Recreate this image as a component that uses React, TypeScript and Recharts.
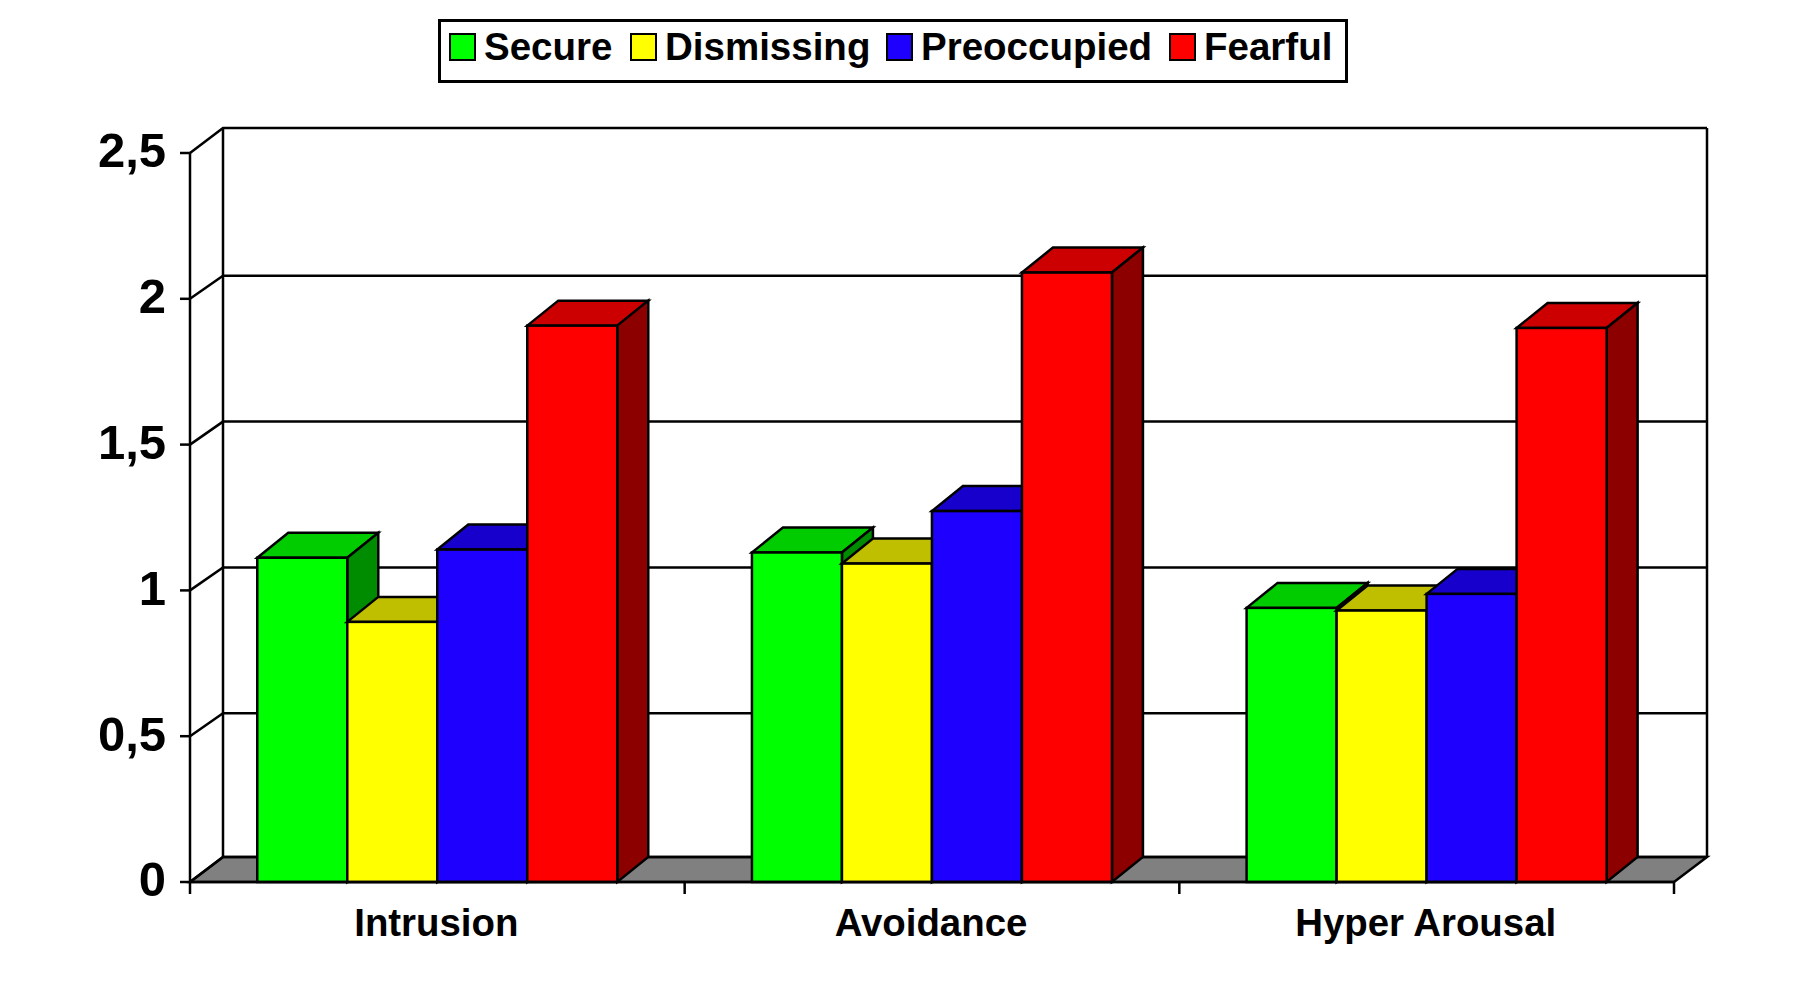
import { BarChart, Bar, XAxis, YAxis, CartesianGrid } from 'recharts'

const categories = ['Intrusion', 'Avoidance', 'Hyper Arousal']
const secure = [1.112, 1.13, 0.94]
const dismissing = [0.892, 1.092, 0.931]
const preoccupied = [1.14, 1.272, 0.988]
const fearful = [1.908, 2.09, 1.9]
const yTicks = [0, 0.5, 1, 1.5, 2, 2.5]

const pts = categories.map((name, i) => ({
  name,
  Secure: secure[i],
  Dismissing: dismissing[i],
  Preoccupied: preoccupied[i],
  Fearful: fearful[i],
}))

const series = [
  { key: 'Secure', front: '#00ff00', top: '#00cc00', side: '#008c00' },
  { key: 'Dismissing', front: '#ffff00', top: '#bfbf00', side: '#8c8c00' },
  { key: 'Preoccupied', front: '#1e00ff', top: '#1800cc', side: '#10008c' },
  { key: 'Fearful', front: '#ff0000', top: '#cc0000', side: '#8c0000' },
]

const FONT = '"Liberation Sans", Arial, sans-serif'
const LINE = 2.5
const PLOT_TOP = 153
const PLOT_BOTTOM = 882
// depth of the fake 3d box
const WALL_DX = 33
const WALL_DY = 25
const MID_DY = 23
const BAR_DX = 31
const BAR_DY = 25

const makeBox = (front: string, top: string, side: string) => (props: any) => {
  const { x, y, width, height } = props
  const r = x + width
  const b = y + height
  return (
    <g stroke="#000" strokeWidth={LINE} strokeLinejoin="miter">
      <polygon points={`${x},${y} ${x + BAR_DX},${y - BAR_DY} ${r + BAR_DX},${y - BAR_DY} ${r},${y}`} fill={top} />
      <polygon points={`${r},${y} ${r + BAR_DX},${y - BAR_DY} ${r + BAR_DX},${b - BAR_DY} ${r},${b}`} fill={side} />
      <rect x={x} y={y} width={width} height={height} fill={front} />
    </g>
  )
}

// back wall line for each value tick, plus floor and wall edges on the ends
const wallLine = (props: any) => {
  const { x1, x2, y1, index } = props
  const isFloor = Math.abs(y1 - PLOT_BOTTOM) < 2
  const isTop = Math.abs(y1 - PLOT_TOP) < 2
  const backY = y1 - (isFloor || isTop ? WALL_DY : MID_DY)
  const floorY = PLOT_BOTTOM - WALL_DY
  return (
    <g key={`wall-${index}`} stroke="#000" strokeWidth={LINE} fill="none">
      {isFloor && (
        <polygon
          points={`${x1},${y1} ${x1 + WALL_DX},${backY} ${x2 + WALL_DX},${backY} ${x2},${y1}`}
          fill="#808080"
        />
      )}
      {isTop && <line x1={x1 + WALL_DX} y1={backY} x2={x1 + WALL_DX} y2={floorY} />}
      {isTop && <line x1={x2 + WALL_DX} y1={backY} x2={x2 + WALL_DX} y2={floorY} />}
      <polyline points={`${x1},${y1} ${x1 + WALL_DX},${backY} ${x2 + WALL_DX},${backY}`} />
    </g>
  )
}

// labels sit mid band, tick marks on the band edges
const CategoryTick = (props: any) => {
  const { x, y, payload, index } = props
  const step = 494.67
  return (
    <g>
      <line x1={x - step / 2} y1={y} x2={x - step / 2} y2={y + 12} stroke="#000" strokeWidth={LINE} />
      {index === categories.length - 1 && (
        <line x1={x + step / 2} y1={y} x2={x + step / 2} y2={y + 12} stroke="#000" strokeWidth={LINE} />
      )}
      <text x={x - 1} y={y + 54} textAnchor="middle" fontFamily={FONT} fontWeight="bold" fontSize={38.4} fill="#000">
        {payload.value}
      </text>
    </g>
  )
}

const LegendBox = () => (
  <div
    style={{
      position: 'absolute', left: 438, top: 19, width: 904, height: 58, border: '3px solid #000',
      background: '#fff', fontFamily: FONT, fontWeight: 'bold', fontSize: 38.5, color: '#000',
    }}
  >
    {series.map((s, i) => {
      const left = [8, 189, 445, 728][i]
      return (
        <div key={s.key} style={{ position: 'absolute', left, top: 0, height: 58, whiteSpace: 'nowrap' }}>
          <span
            style={{
              position: 'absolute', left: 0, top: 11, width: 23, height: 24,
              background: s.front, border: '2.5px solid #000',
            }}
          />
          <span style={{ position: 'absolute', left: 35, top: 3, lineHeight: '44px' }}>{s.key}</span>
        </div>
      )
    })}
  </div>
)

export default function App() {
  return (
    <div style={{ position: 'absolute', left: 0, top: 0, width: 1794, height: 988, background: '#fff' }}>
      <BarChart
        width={1794}
        height={988}
        data={pts}
        margin={{ top: PLOT_TOP, right: 120, bottom: 0, left: 0 }}
        barCategoryGap="13.6%"
        barGap={0}
      >
        <CartesianGrid vertical={false} horizontal={wallLine} syncWithTicks />
        <XAxis
          dataKey="name"
          height={106}
          interval={0}
          axisLine={{ stroke: '#000', strokeWidth: LINE }}
          tickLine={false}
          tickSize={0}
          tickMargin={0}
          tick={<CategoryTick />}
        />
        <YAxis
          width={190}
          domain={[0, 2.5]}
          ticks={yTicks}
          interval={0}
          axisLine={{ stroke: '#000', strokeWidth: LINE }}
          tickLine={{ stroke: '#000', strokeWidth: LINE }}
          tickSize={10}
          tickMargin={14}
          tickFormatter={(v: number) => String(v).replace('.', ',')}
          tick={{ fontSize: 49, fontWeight: 'bold', fontFamily: FONT, fill: '#000', dy: -3 }}
        />
        {series.map(s => (
          <Bar key={s.key} dataKey={s.key} isAnimationActive={false} shape={makeBox(s.front, s.top, s.side)} />
        ))}
      </BarChart>
      <LegendBox />
    </div>
  )
}
